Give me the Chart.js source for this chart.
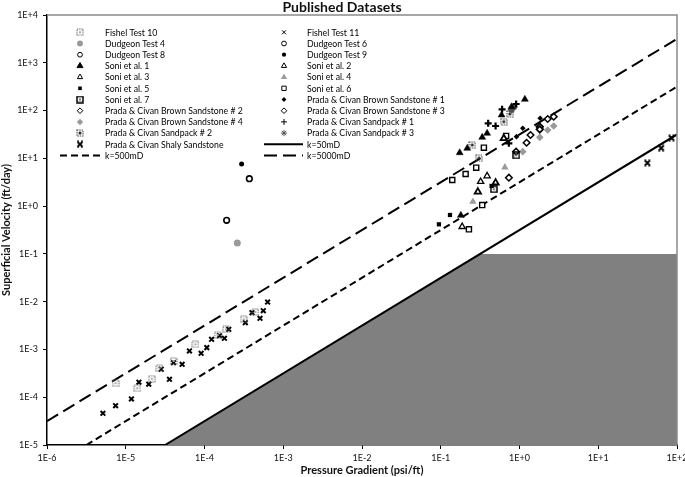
<!DOCTYPE html>
<html><head><meta charset="utf-8">
<script src="https://cdn.jsdelivr.net/npm/chart.js@4"></script>
<style>html,body{margin:0;padding:0;background:#fff}#wrap{width:685px;height:477px}</style>
</head><body><div id="wrap"><canvas id="c" width="685" height="477"></canvas></div>
<script>
// ---- axis ticks ----
const xTickValues = [1e-6, 1e-5, 1e-4, 1e-3, 1e-2, 1e-1, 1e0, 1e1, 1e2];
const xTickLabels = ['1E-6', '1E-5', '1E-4', '1E-3', '1E-2', '1E-1', '1E+0', '1E+1', '1E+2'];
const yTickValues = [1e-5, 1e-4, 1e-3, 1e-2, 1e-1, 1e0, 1e1, 1e2, 1e3, 1e4];
const yTickLabels = ['1E-5', '1E-4', '1E-3', '1E-2', '1E-1', '1E+0', '1E+1', '1E+2', '1E+3', '1E+4'];

// ---- series (pressure gradient psi/ft, superficial velocity ft/day) ----
const fishel10G = [7.43e-6, 1.40e-5, 2.14e-5, 2.68e-5, 4.04e-5, 7.68e-5, 1.47e-4, 1.88e-4, 3.14e-4, 4.42e-4];
const fishel10V = [1.96e-4, 1.54e-4, 2.44e-4, 4.03e-4, 5.73e-4, 1.28e-3, 2.01e-3, 2.64e-3, 4.28e-3, 6.08e-3];
const fishel11G = [5.13e-6, 7.43e-6, 1.18e-5, 1.47e-5, 1.96e-5, 2.82e-5, 3.59e-5, 4.04e-5, 5.20e-5, 6.44e-5, 9.06e-5, 1.07e-4, 1.23e-4, 1.55e-4, 1.79e-4, 2.03e-4, 3.30e-4, 4.01e-4, 5.07e-4, 5.58e-4, 6.33e-4];
const fishel11V = [4.61e-5, 6.65e-5, 9.19e-5, 2.06e-4, 1.87e-4, 3.85e-4, 2.37e-4, 5.28e-4, 4.89e-4, 9.29e-4, 8.31e-4, 1.09e-3, 1.63e-3, 1.94e-3, 1.71e-3, 2.64e-3, 3.63e-3, 5.88e-3, 4.49e-3, 6.47e-3, 9.84e-3];
const dudgeon4G = [2.61e-4], dudgeon4V = [0.169];
const dudgeon6G = [3.71e-4], dudgeon6V = [3.75];
const dudgeon8G = [1.91e-4], dudgeon8V = [0.505];
const dudgeon9G = [2.96e-4], dudgeon9V = [7.6];
const soni1G = [0.174, 0.217, 0.336, 0.388, 0.592, 0.793, 1.17, 0.18];
const soni1V = [13.1, 16.2, 27.5, 33.4, 80.7, 120, 172, 0.64];
const soni2G = [0.321, 0.388, 0.187];
const soni2V = [3.25, 4.27, 0.371];
const soni3G = [0.296, 0.497, 0.632];
const soni3V = [2.0, 3.09, 26.2];
const soni4G = [0.652, 0.256];
const soni4V = [6.49, 1.24];
const soni5G = [0.131, 0.0948, 0.442];
const soni5V = [0.652, 0.416, 2.64];
const soni6G = [0.140, 0.207, 0.282, 0.353, 0.676, 0.336, 0.228];
const soni6V = [3.52, 4.70, 6.37, 16.7, 29.4, 1.05, 0.327];
const soni7G = [0.472, 0.91];
const soni7V = [2.25, 11.5];
const brown1G = [1.83, 1.10, 0.916];
const brown1V = [68.9, 42.5, 28.4];
const brown2G = [1.81, 1.81];
const brown2V = [45.9, 40.5];
const brown3G = [1.38, 1.23, 0.733, 0.906, 2.28, 2.72];
const brown3V = [30.8, 21.2, 3.94, 13.8, 66.6, 74.4];
const brown4G = [1.81, 2.28, 2.72, 1.10];
const brown4V = [27.5, 39.2, 47.5, 13.8];
const sand1G = [0.400, 0.497, 0.601, 0.906, 0.733];
const sand1V = [54.1, 47.5, 106, 137, 20.6];
const sand2G = [0.753, 0.632, 0.251, 0.305];
const sand2V = [84.7, 58.5, 19.0, 10.0];
const sand3G = [0.847, 0.79];
const sand3V = [120, 105];
const shalyG = [85, 63, 42];
const shalyV = [26.7, 16.4, 8.0];

// ---- permeability lines (end points) ----
const k50G = [3.16e-5, 100], k50V = [1e-5, 31.6];
const k500G = [3.16e-6, 100], k500V = [1e-5, 316];
const k5000G = [1e-6, 100], k5000V = [3.16e-5, 3160];
// ---- shaded region outline ----
const shadeG = [3.16e-5, 0.316, 100];
const shadeV = [1e-5, 0.1, 0.1];

// ---- custom marker images ----
function mk(draw) { const c = document.createElement('canvas'); c.width = 8; c.height = 8; draw(c.getContext('2d')); return c; }
const mFishel10 = mk(g => { g.strokeStyle = '#666'; g.lineWidth = 1.1; g.setLineDash([1.3, 0.9]); g.strokeRect(1, 1, 6, 6); g.fillStyle = '#aaa'; g.fillRect(3, 3, 2, 2); });
const mSand2 = mk(g => { g.strokeStyle = '#444'; g.lineWidth = 1.2; g.setLineDash([1.4, 0.9]); g.strokeRect(1, 1, 6, 6); g.setLineDash([]); g.fillStyle = '#222'; g.fillRect(3.2, 2.5, 1.6, 3); g.fillRect(2.5, 3.2, 3, 1.6); });
const mSoni7 = mk(g => { g.strokeStyle = '#000'; g.lineWidth = 1.5; g.strokeRect(1, 1, 6, 6); g.fillStyle = '#777'; g.fillRect(3, 3, 2, 2); });
const mShaly = mk(g => { g.strokeStyle = '#000'; g.lineWidth = 1.8; g.beginPath(); g.moveTo(1.5, 1.5); g.lineTo(6.5, 6.5); g.moveTo(6.5, 1.5); g.lineTo(1.5, 6.5); g.stroke(); g.lineWidth = 1.2; g.beginPath(); g.moveTo(1, 1); g.lineTo(3, 1); g.moveTo(5, 1); g.lineTo(7, 1); g.moveTo(1, 7); g.lineTo(3, 7); g.moveTo(5, 7); g.lineTo(7, 7); g.stroke(); });

function sc(label, G, V, st) {
  return { type: 'scatter', label, data: G.map((x, i) => ({ x, y: V[i] })), showLine: false, order: 0,
    pointStyle: st.ps, pointRadius: st.r, pointHoverRadius: st.r, pointBorderWidth: st.bw,
    pointBackgroundColor: st.fill, pointBorderColor: st.stroke, backgroundColor: st.fill, borderColor: st.stroke };
}
function ln(label, G, V, dash) {
  return { type: 'line', label, data: G.map((x, i) => ({ x, y: V[i] })), borderColor: '#000', borderWidth: 2,
    borderDash: dash, pointRadius: 0, fill: false, order: 1, tension: 0 };
}
const GRAY = '#9a9a9a';
const datasets = [
  sc('Fishel Test 10', fishel10G, fishel10V, { ps: mFishel10, r: 4, bw: 0, fill: '#fff', stroke: '#555' }),
  sc('Fishel Test 11', fishel11G, fishel11V, { ps: 'crossRot', r: 3.3, bw: 2, fill: '#000', stroke: '#000' }),
  sc('Dudgeon Test 4', dudgeon4G, dudgeon4V, { ps: 'circle', r: 3.5, bw: 0, fill: GRAY, stroke: GRAY }),
  sc('Dudgeon Test 6', dudgeon6G, dudgeon6V, { ps: 'circle', r: 2.8, bw: 1.6, fill: '#fff', stroke: '#000' }),
  sc('Dudgeon Test 8', dudgeon8G, dudgeon8V, { ps: 'circle', r: 2.8, bw: 1.6, fill: '#fff', stroke: '#000' }),
  sc('Dudgeon Test 9', dudgeon9G, dudgeon9V, { ps: 'circle', r: 2.5, bw: 0, fill: '#000', stroke: '#000' }),
  sc('Soni et al. 1', soni1G, soni1V, { ps: 'triangle', r: 4, bw: 0.5, fill: '#000', stroke: '#000' }),
  sc('Soni et al. 2', soni2G, soni2V, { ps: 'triangle', r: 3.6, bw: 1.3, fill: '#fff', stroke: '#000' }),
  sc('Soni et al. 3', soni3G, soni3V, { ps: 'triangle', r: 3.6, bw: 1.8, fill: '#fff', stroke: '#000' }),
  sc('Soni et al. 4', soni4G, soni4V, { ps: 'triangle', r: 4.2, bw: 0, fill: GRAY, stroke: GRAY }),
  sc('Soni et al. 5', soni5G, soni5V, { ps: 'rect', r: 3, bw: 0, fill: '#000', stroke: '#000' }),
  sc('Soni et al. 6', soni6G, soni6V, { ps: 'rect', r: 3.6, bw: 1.4, fill: '#fff', stroke: '#000' }),
  sc('Soni et al. 7', soni7G, soni7V, { ps: mSoni7, r: 4, bw: 0, fill: '#fff', stroke: '#000' }),
  sc('Prada & Civan Brown Sandstone # 1', brown1G, brown1V, { ps: 'rectRot', r: 2.8, bw: 0, fill: '#000', stroke: '#000' }),
  sc('Prada & Civan Brown Sandstone # 2', brown2G, brown2V, { ps: 'rectRot', r: 3.3, bw: 1.8, fill: '#fff', stroke: '#000' }),
  sc('Prada & Civan Brown Sandstone # 3', brown3G, brown3V, { ps: 'rectRot', r: 3.3, bw: 1.5, fill: '#fff', stroke: '#000' }),
  sc('Prada & Civan Brown Sandstone # 4', brown4G, brown4V, { ps: 'rectRot', r: 3.8, bw: 0, fill: GRAY, stroke: GRAY }),
  sc('Prada & Civan Sandpack # 1', sand1G, sand1V, { ps: 'cross', r: 3.5, bw: 2.2, fill: '#000', stroke: '#000' }),
  sc('Prada & Civan Sandpack # 2', sand2G, sand2V, { ps: mSand2, r: 4, bw: 0, fill: '#fff', stroke: '#444' }),
  sc('Prada & Civan Sandpack # 3', sand3G, sand3V, { ps: 'star', r: 3.6, bw: 1.8, fill: '#555', stroke: '#555' }),
  sc('Prada & Civan Shaly Sandstone', shalyG, shalyV, { ps: mShaly, r: 4, bw: 0, fill: '#000', stroke: '#000' }),
  ln('k=50mD', k50G, k50V, []),
  ln('k=500mD', k500G, k500V, [7, 4]),
  ln('k=5000mD', k5000G, k5000V, [13, 6]),
  { type: 'line', label: '_shade', data: shadeG.map((x, i) => ({ x, y: shadeV[i] })), borderWidth: 0, borderColor: 'rgba(0,0,0,0)',
    backgroundColor: '#808080', fill: 'start', pointRadius: 0, order: 2, tension: 0 }
];

const FONT = 'Lato, "Liberation Sans", sans-serif';

const legendPlugin = {
  id: 'customLegend',
  afterDatasetsDraw(chart) {
    const ctx = chart.ctx;
    const items = chart.data.datasets.filter(d => d.label !== '_shade');
    ctx.save();
    ctx.font = '8.7px ' + FONT;
    ctx.textBaseline = 'middle';
    ctx.textAlign = 'left';
    items.forEach((d, i) => {
      const row = Math.floor(i / 2), col = i % 2;
      const y = 32.3 + row * 11.2;
      const mx = col === 0 ? 80 : 284;
      const tx = col === 0 ? 105 : 307;
      if (d.type === 'line') {
        ctx.save();
        ctx.strokeStyle = '#000'; ctx.lineWidth = 2; ctx.setLineDash(d.borderDash);
        ctx.beginPath(); ctx.moveTo(col === 0 ? 60 : 264, y); ctx.lineTo(col === 0 ? 101 : 303, y); ctx.stroke();
        ctx.restore();
      } else {
        ctx.save();
        ctx.fillStyle = d.pointBackgroundColor; ctx.strokeStyle = d.pointBorderColor;
        Chart.helpers.drawPoint(ctx, { pointStyle: d.pointStyle, radius: d.pointRadius * 0.85, borderWidth: d.pointBorderWidth, rotation: 0 }, mx, y);
        ctx.restore();
      }
      ctx.fillStyle = '#000';
      ctx.fillText(d.label, tx, y + 0.5);
    });
    ctx.restore();
  },
  afterDraw(chart) {
    const { ctx, chartArea: a } = chart;
    ctx.save();
    ctx.strokeStyle = '#8a8a8a'; ctx.lineWidth = 1.5;
    ctx.beginPath(); ctx.moveTo(a.left, a.top); ctx.lineTo(a.right, a.top); ctx.lineTo(a.right, a.bottom); ctx.stroke();
    ctx.fillStyle = '#111'; ctx.font = 'bold 14px ' + FONT; ctx.textAlign = 'center'; ctx.textBaseline = 'middle';
    ctx.fillText('Published Datasets', 342, 7);
    ctx.restore();
  }
};

function fixTicks(values) {
  return s => { s.ticks = values.map(v => ({ value: v })); };
}

new Chart(document.getElementById('c'), {
  data: { datasets },
  options: {
    responsive: false, animation: false, devicePixelRatio: 1,
    layout: { padding: { top: 15, right: 8, left: 0, bottom: 0 } },
    plugins: { legend: { display: false }, tooltip: { enabled: false } },
    scales: {
      x: {
        type: 'logarithmic', min: 1e-6, max: 1e2, position: 'bottom',
        afterBuildTicks: fixTicks(xTickValues),
        afterFit: s => { s.height = 32; s.paddingLeft = 0; s.paddingRight = 0; },
        ticks: { autoSkip: false, maxRotation: 0, padding: 4, color: '#111', font: { family: FONT, size: 9 },
          callback: (v) => xTickLabels[xTickValues.findIndex(t => Math.abs(Math.log10(t) - Math.log10(v)) < 1e-6)] },
        grid: { drawOnChartArea: false, tickLength: 4, color: '#000', lineWidth: 1 },
        border: { display: true, color: '#000', width: 1.5 },
        title: { display: true, text: 'Pressure Gradient (psi/ft)', color: '#111', font: { family: FONT, size: 11, weight: 'bold' }, padding: { top: 0, bottom: 0 } }
      },
      y: {
        type: 'logarithmic', min: 1e-5, max: 1e4, position: 'left',
        afterBuildTicks: fixTicks(yTickValues),
        afterFit: s => { s.width = 47; s.paddingTop = 0; s.paddingBottom = 0; },
        ticks: { autoSkip: false, padding: 5, color: '#111', font: { family: FONT, size: 9 },
          callback: (v) => yTickLabels[yTickValues.findIndex(t => Math.abs(Math.log10(t) - Math.log10(v)) < 1e-6)] },
        grid: { drawOnChartArea: false, tickLength: 4, color: '#000', lineWidth: 1 },
        border: { display: true, color: '#000', width: 1.5 },
        title: { display: true, text: 'Superficial Velocity (ft/day)', color: '#111', font: { family: FONT, size: 11, weight: 'bold' }, padding: { top: 0, bottom: 0 } }
      }
    }
  },
  plugins: [legendPlugin]
});
</script>
</body></html>
